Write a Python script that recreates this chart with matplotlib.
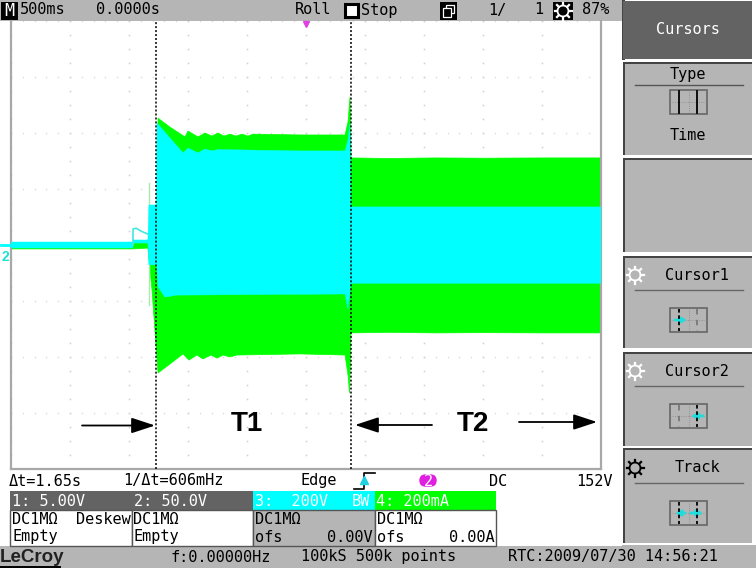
import matplotlib
matplotlib.use('Agg')
import matplotlib.pyplot as plt
from matplotlib.patches import Rectangle, FancyBboxPatch, Circle
import numpy as np

MONO = 'DejaVu Sans Mono'
GREY = '#b5b5b5'
DARK = '#636363'
CH3 = '#00ffff'
CH4 = '#00ff00'

# envelopes: seconds from left edge, amps (ch4), volts (ch3)
cur_top_t = [0, 1.034, 1.16, 1.195, 1.237, 1.246, 1.347, 1.475, 1.50, 1.585, 1.644, 1.703,
             1.754, 1.805, 1.856, 1.907, 1.958, 2.008, 2.051, 2.449, 2.831, 2.856, 2.873,
             2.881, 3.2, 3.6, 4.0, 4.5, 5.0]
cur_top = [0.007, 0.007, 0.007, 0.139, 0.14, 0.453, 0.421, 0.386, 0.407, 0.386, 0.400, 0.389,
           0.400, 0.389, 0.396, 0.389, 0.396, 0.389, 0.396, 0.393, 0.393, 0.439, 0.529,
           0.311, 0.309, 0.311, 0.310, 0.311, 0.311]
cur_bot_t = [0, 1.034, 1.16, 1.195, 1.246, 1.347, 1.458, 1.508, 1.576, 1.627, 1.695, 1.746,
             1.797, 1.856, 1.915, 2.449, 2.831, 2.856, 2.869, 2.881, 3.2, 3.6, 4.0, 4.5, 5.0]
cur_bot = [-0.014, -0.014, -0.011, -0.161, -0.457, -0.425, -0.389, -0.411, -0.393, -0.407,
           -0.393, -0.404, -0.393, -0.400, -0.393, -0.389, -0.393, -0.464, -0.529, -0.314,
           -0.312, -0.314, -0.313, -0.314, -0.314]
volt_top_t = [0, 1.034, 1.034, 1.16, 1.169, 1.233, 1.237, 1.347, 1.458, 1.50, 1.585, 1.644,
              1.703, 1.754, 2.449, 2.831, 2.856, 2.873, 2.881, 5.0]
volt_top = [10.7, 10.7, 18, 18, 143, 143, 436, 382, 329, 346, 329, 343,
            336, 341, 336, 336, 375, 436, 136, 136]
volt_bot_t = [0, 1.034, 1.034, 1.16, 1.169, 1.233, 1.246, 1.305, 1.407, 2.831, 2.856, 2.881, 5.0]
volt_bot = [-10.7, -10.7, 7, 7, -71, -71, -150, -186, -179, -175, -230, -137, -137]
# little step before the burst
step_t = [1.034, 1.034, 1.06, 1.10, 1.16]
step_v = [0, 57, 60, 50, 39]

cursor_t = [1.23, 2.88]
time_ticks = [0, 0.5, 1, 1.5, 2, 2.5, 3, 3.5, 4, 4.5, 5]
div_ticks = [-0.8, -0.6, -0.4, -0.2, 0, 0.2, 0.4, 0.6, 0.8]

channels = [('1: 5.00V', '', 'DC1MΩ', 'Deskew', 'Empty', ''),
            ('2: 50.0V', '', 'DC1MΩ', '', 'Empty', ''),
            ('3:  200V', 'BW', 'DC1MΩ', '', 'ofs', '0.00V'),
            ('4: 200mA', '', 'DC1MΩ', '', 'ofs', '0.00A')]
softkeys = ['Cursors', 'Type', '', 'Cursor1', 'Cursor2', 'Track']

fig = plt.figure(figsize=(7.56, 5.68), dpi=100, facecolor='white')

# chrome in pixel coordinates
bg = fig.add_axes([0, 0, 1, 1])
bg.set_xlim(0, 756)
bg.set_ylim(568, 0)
bg.axis('off')


def box(x0, y0, x1, y1, fc, ec='none', lw=0, z=1):
    bg.add_patch(Rectangle((x0, y0), x1 - x0, y1 - y0, fc=fc, ec=ec, lw=lw, zorder=z))


def label(x, y, s, ha='left', color='black', size=11, **kw):
    bg.text(x, y, s, ha=ha, va='center', color=color, fontsize=size, family=MONO,
            zorder=5, **kw)


def gear(cx, cy, color):
    bg.add_patch(Circle((cx, cy), 5.5, fc='none', ec=color, lw=1.3, zorder=5))
    for a in np.arange(0, 360, 45):
        r = np.radians(a)
        bg.plot([cx + 6 * np.cos(r), cx + 8.5 * np.cos(r)], [cy + 6 * np.sin(r), cy + 8.5 * np.sin(r)],
                color=color, lw=1.6, zorder=5)


def cursor_icon(y, solid, arrows):
    box(670, y - 12, 707, y + 12, GREY, '#666666', 1.2, 3)
    bg.plot([670, 707], [y, y], color='#888888', lw=0.6, ls=':', zorder=4)
    bg.plot([688.5, 688.5], [y - 12, y + 12], color='#888888', lw=0.6, ls=':', zorder=4)
    for x, on in zip((679, 697), solid):
        bg.plot([x, x], [y - 11, y + 11], color='black' if on else '#777777', lw=1.3,
                ls='-' if on == 2 else (0, (2, 1.5)) if on else (0, (3, 3)), zorder=6)
    for x0, x1 in arrows:
        bg.annotate('', xy=(x1, y), xytext=(x0, y), zorder=5,
                    arrowprops=dict(arrowstyle='-|>', color='#20dcdc', lw=2, mutation_scale=8))


# top bar
box(0, 0, 622, 21, GREY)
box(622, 0, 625, 60, '#444444')
box(1, 2, 18, 20, 'black')
label(9.5, 11, 'M', ha='center', color='white', size=12)
label(20, 10, '500ms')
label(96, 10, '0.0000s')
label(295, 10, 'Roll')
box(345, 4, 358, 17, 'white', 'black', 2.2, 3)
label(361, 10, 'Stop')
box(440, 2, 457, 20, 'black', z=3)
box(446, 5, 454, 13, 'black', 'white', 0.9, 4)
box(443, 8, 451, 17, 'black', 'white', 0.9, 4)
label(488, 10, '1/')
label(534, 10, '1')
box(553, 2, 573, 20, 'black', z=3)
gear(563, 11, 'white')
label(582, 10, '87%')

# signal screen
scr = fig.add_axes([11 / 756, 1 - 469 / 568, 590 / 756, 448 / 568], zorder=2)
scr.set_xlim(0, 5)
scr.set_ylim(-0.8, 0.8)
scr.set_facecolor('white')
scr.set_xticks([])
scr.set_yticks([])
for s in scr.spines.values():
    s.set_color('#a8a8a8')
    s.set_linewidth(1.6)
scr.spines['top'].set_visible(False)

gx = np.arange(0, 5.001, 0.1)
gy = np.arange(-0.8, 0.801, 0.05)
for y in div_ticks:
    scr.plot(gx, [y] * len(gx), ls='none', marker='s', ms=0.9, color='#d6d6d6', mew=0, zorder=1)
for t in time_ticks:
    scr.plot([t] * len(gy), gy, ls='none', marker='s', ms=1.1, color='#cfcfcf', mew=0, zorder=1)
for t in time_ticks:
    scr.plot([t, t], [-0.012, 0.012], color='#b0b0b0', lw=0.8, zorder=1)

scr.fill(np.r_[cur_top_t, cur_bot_t[::-1]], np.r_[cur_top, cur_bot[::-1]],
         color=CH4, lw=0.5, zorder=2)

v = scr.twinx()
v.set_ylim(-800, 800)
v.set_yticks([])
v.patch.set_visible(False)
for s in v.spines.values():
    s.set_visible(False)
v.fill(np.r_[volt_top_t, volt_bot_t[::-1]], np.r_[volt_top, volt_bot[::-1]],
       color=CH3, lw=0.3, zorder=3)
v.plot(step_t, step_v, color='#40e8e0', lw=1.2, zorder=3)
v.plot([1.17, 1.17], [-215, 220], color='#a8ecb0', lw=1, zorder=2.5)
for t in cursor_t:
    v.axvline(t, color='black', lw=1.1, ls=(0, (1.3, 1.3)), zorder=6)

# overlay for annotation on the screen
over = fig.add_axes([0, 0, 1, 1], zorder=3)
over.set_xlim(0, 756)
over.set_ylim(568, 0)
over.axis('off')
over.patch.set_visible(False)
over.plot([1, 11], [245, 245], color=CH3, lw=2)
over.text(5, 257, '2', color='#20e0d8', fontsize=10, family='Liberation Sans', fontweight='bold',
          ha='center', va='center')
over.plot([306], [24], marker='v', color='#e040e0', ms=5)
for x0, x1, y in [(82, 155, 425.5), (432, 355, 425), (519, 597, 422)]:
    over.annotate('', xy=(x1, y), xytext=(x0, y),
                  arrowprops=dict(arrowstyle='-|>,head_length=0.85,head_width=0.28', color='black',
                                  lw=1.3, shrinkA=0, shrinkB=0, mutation_scale=17))
over.text(247, 424, 'T1', fontsize=20, family='Liberation Sans', fontweight='bold',
          ha='center', va='center')
over.text(473, 424, 'T2', fontsize=20, family='Liberation Sans', fontweight='bold',
          ha='center', va='center')

# info row
label(9, 481, 'Δt=1.65s')
label(123, 481, '1/Δt=606mHz')
label(301, 481, 'Edge')
bg.plot([354, 364, 364, 375], [489, 489, 473, 473], color='black', lw=1.2, zorder=5)
bg.plot([364], [480], marker='^', color='#20d0e0', ms=6, zorder=6)
bg.add_patch(FancyBboxPatch((420, 475), 16, 11, boxstyle='round,pad=0,rounding_size=5.5',
                            fc='#e020e0', ec='#e020e0', lw=1, zorder=4))
label(428, 481, '2', ha='center', color='white')
label(489, 481, 'DC')
label(576, 481, '152V')

# channel boxes
hdr_col = [DARK, DARK, CH3, CH4]
body_col = ['white', 'white', GREY, 'white']
for i, (name, bw, coup, extra, l3, r3) in enumerate(channels):
    x0 = 10 + i * 121.5
    box(x0, 491, x0 + 121.5, 510, hdr_col[i], z=2)
    box(x0, 510, x0 + 121.5, 546, body_col[i], '#555555', 1.0, 2)
    label(x0 + 2, 501, name, color='white')
    if bw:
        label(x0 + 117, 501, bw, ha='right', color='white')
    label(x0 + 2, 519, coup)
    if extra:
        label(x0 + 121, 519, extra, ha='right')
    label(x0 + 2, 537, l3)
    if r3:
        label(x0 + 120, 537, r3, ha='right')

# status bar
box(0, 546, 622, 568, GREY)
box(622, 545, 756, 568, GREY)
bg.text(0, 557, 'LeCroy', fontsize=13.5, family='Liberation Sans', fontweight='bold', va='center',
        zorder=5, color='#222222')
bg.plot([0, 60], [566.5, 566.5], color='black', lw=1.4, zorder=5)
label(170, 557, 'f:0.00000Hz')
label(301, 557, '100kS 500k points')
label(508, 557, 'RTC:2009/07/30 14:56:21')

# softkey column
key_y = [(1, 59), (62, 155), (158, 252), (256, 348), (352, 446), (448, 543)]
for (y0, y1), name in zip(key_y, softkeys):
    if name == 'Cursors':
        box(623, y0, 752, y1, DARK)
        label(688, 30, name, ha='center', color='white')
        continue
    box(623, y0, 752, y1, GREY)
    box(623, y0, 752, y0 + 2, '#444444', z=2)
    box(623, y0, 625, y1, '#444444', z=2)

label(688, 74, 'Type', ha='center')
bg.plot([635, 743], [85, 85], color='#555555', lw=1, zorder=4)
cursor_icon(102, (2, 2), [])
label(688, 136, 'Time', ha='center')

for y, name, col, sol, arr in [(275, 'Cursor1', 'white', (1, 0), [(672, 690)]),
                               (371, 'Cursor2', 'white', (0, 1), [(706, 688)]),
                               (468, 'Track', 'black', (1, 1), [(688, 672), (688, 706)])]:
    label(697, y, name, ha='center')
    gear(635, y, col)
    bg.plot([635, 743], [y + 15, y + 15], color='#666666', lw=1, zorder=4)
    cursor_icon(y + 45, sol, arr)

fig.savefig('out.png', dpi=100)
